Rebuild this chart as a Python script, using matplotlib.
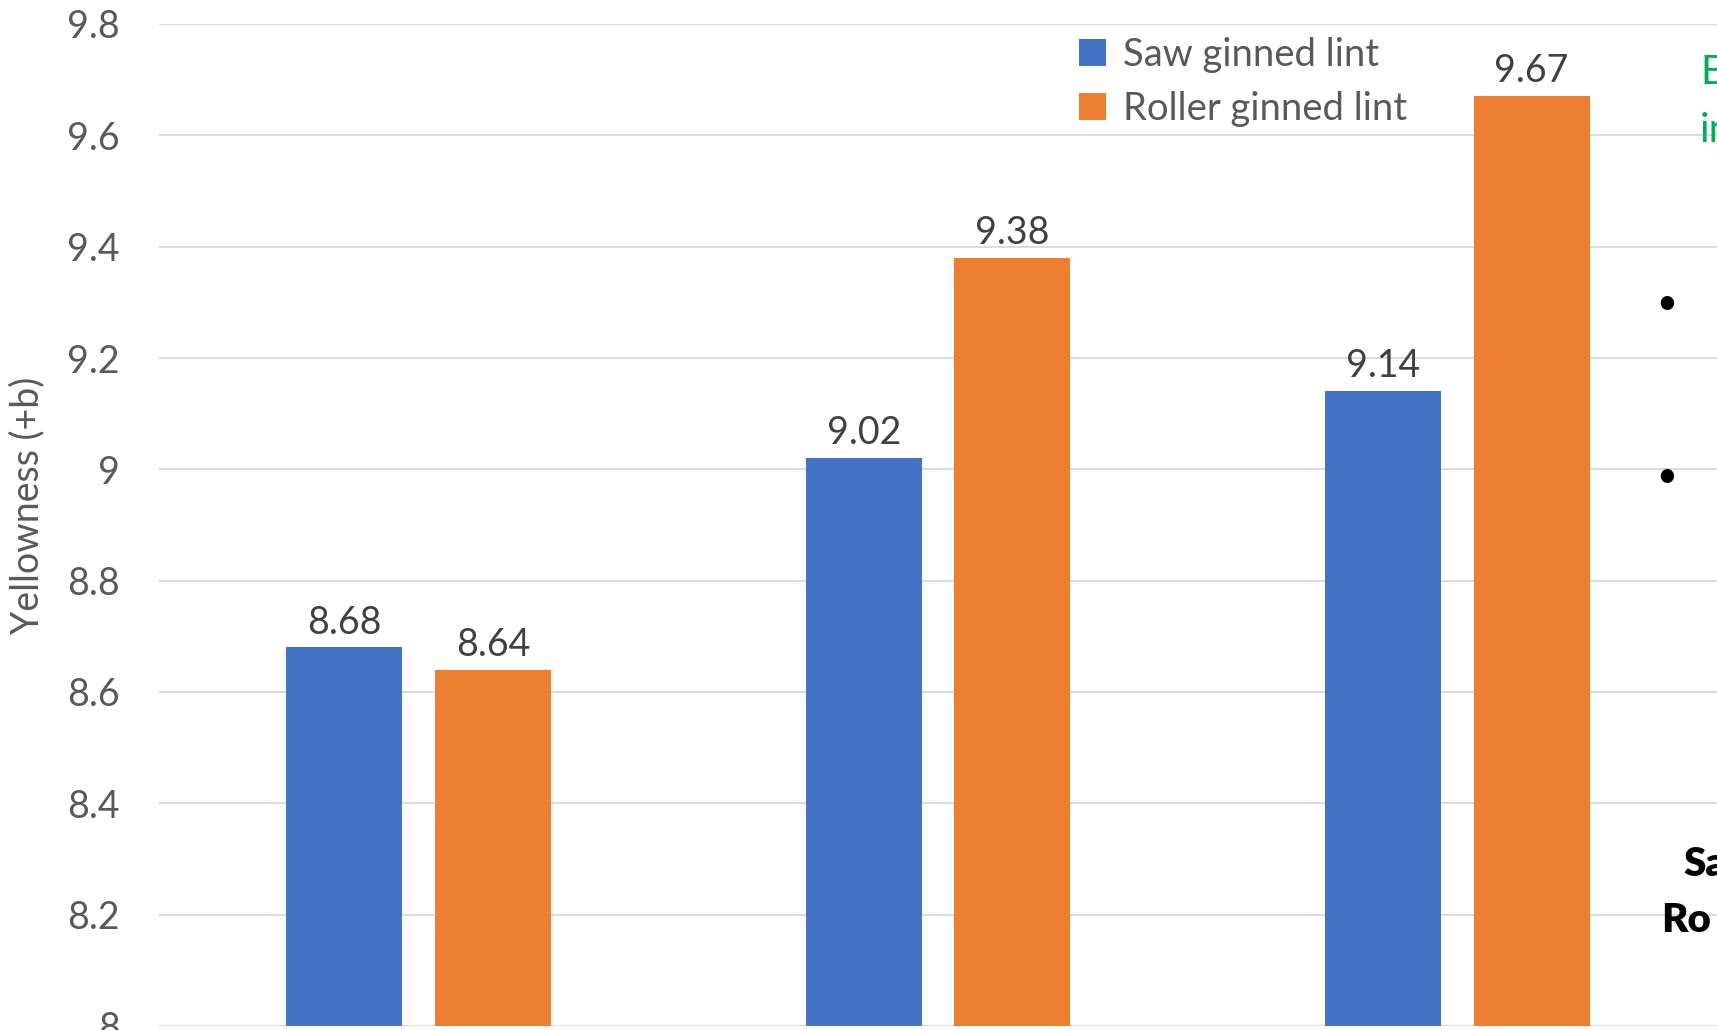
import matplotlib
matplotlib.use("Agg")
import matplotlib.pyplot as plt
import numpy as np

plt.rcParams['font.family'] = ['Lato', 'DejaVu Sans']

categories = ["A", "B", "C"]
series_names = ["Saw ginned lint", "Roller ginned lint"]
saw_values = [8.68, 9.02, 9.14]
roller_values = [8.64, 9.38, 9.67]
yticks = [8, 8.2, 8.4, 8.6, 8.8, 9, 9.2, 9.4, 9.6, 9.8]
ytick_labels = ["8", "8.2", "8.4", "8.6", "8.8", "9", "9.2", "9.4", "9.6", "9.8"]

W, H = 1717, 1030
fig = plt.figure(figsize=(W / 100, H / 100), dpi=100)
left, right, top, bottom = 159, 1717, 24, 1026
ax = fig.add_axes([left / W, 1 - bottom / H, (right - left) / W, (bottom - top) / H])

x = np.arange(len(categories))
bw = 0.223
off = 0.143
blue = "#4472C4"
orange = "#ED7D31"
b1 = ax.bar(x - off, saw_values, bw, color=blue, label=series_names[0], zorder=3)
b2 = ax.bar(x + off, roller_values, bw, color=orange, label=series_names[1], zorder=3)

for bars, vals in ((b1, saw_values), (b2, roller_values)):
    for r, v in zip(bars, vals):
        ax.annotate(f"{v:.2f}", (r.get_x() + r.get_width() / 2, v), xytext=(0, 5),
                    textcoords="offset points", ha="center", va="bottom",
                    fontsize=27, color="#404040")

ax.set_ylim(8, 9.8)
ax.set_xlim(-0.5, 2.5)
ax.set_yticks(yticks)
ax.set_yticklabels(ytick_labels, fontsize=27, color="#595959")
ax.tick_params(axis='y', length=0, pad=28)
ax.set_xticks([])
ax.grid(axis='y', color="#D9D9D9", linewidth=1.3, zorder=0)
for s in ax.spines.values():
    s.set_visible(False)

fig.text(27 / W, 1 - 505 / H, "Yellowness (+b)", rotation=90, ha="center", va="center",
         fontsize=27, color="#595959")

leg = ax.legend(loc="upper left", bbox_to_anchor=(1079 / W, 1 - 37 / H),
                bbox_transform=fig.transFigure, frameon=False, fontsize=27.5,
                handlelength=0.7, handleheight=0.7, handletextpad=0.45,
                labelspacing=0.47, borderpad=0, borderaxespad=0, labelcolor="#595959")

# Cropped slide text at right edge
fig.text(1700 / W, 1 - 73 / H, "B", fontsize=29, color="#00B050", ha="left", va="center")
fig.text(1700 / W, 1 - 131 / H, "in", fontsize=29, color="#00B050", ha="left", va="center")
fig.text(1667 / W, 1 - 303 / H, "•", fontsize=26, color="black", ha="center", va="center")
fig.text(1667 / W, 1 - 476 / H, "•", fontsize=26, color="black", ha="center", va="center")
fig.text(1683 / W, 1 - 864 / H, "Sa", fontsize=29, color="black", fontweight="heavy", ha="left", va="center")
fig.text(1661 / W, 1 - 920 / H, "Ro", fontsize=29, color="black", fontweight="heavy", ha="left", va="center")

fig.savefig("out.png", dpi=100)
